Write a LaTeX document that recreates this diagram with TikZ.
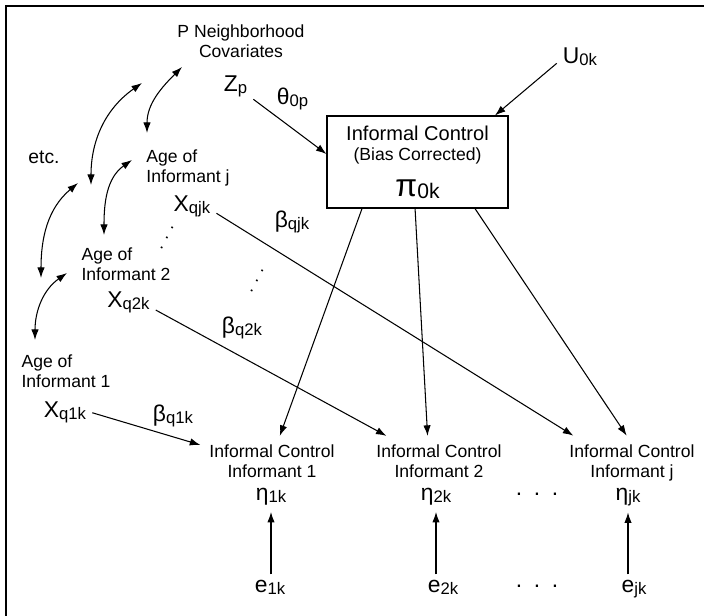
\documentclass[tikz,border=0pt]{standalone}
\usepackage{fontspec}
\setmainfont{Liberation Sans}
\usepackage{tikz}
\usetikzlibrary{arrows.meta,positioning}
\tikzstyle{lbl} = [align=center, font=\fontsize{10}{11.4}\selectfont]
\tikzstyle{age} = [align=left, font=\fontsize{10}{11.4}\selectfont]
\tikzstyle{sym} = [anchor=base, font=\fontsize{13}{15}\selectfont]
\tikzstyle{arrow} = [semithick,->,>={Latex[length=6pt,width=4.2pt]}]
\tikzstyle{corr} = [semithick,<->,>={Latex[length=6pt,width=4.2pt]}]
\newcommand{\symb}[2]{#1\raisebox{-1pt}{\fontsize{9.5}{10}\selectfont #2}}

\begin{document}
\begin{tikzpicture}
\useasboundingbox (0,0) rectangle (14.08,12.32);
% frame, top and left
\draw[line width=1.3pt] (0.12,0) -- (0.12,12.20) -- (14.08,12.20);

% neighborhood level
\node[lbl] (cov) at (4.82,11.49) {P Neighborhood\\Covariates};
\node[sym] (zp) at (4.71,10.48) {\symb{Z}{p}};
\node[sym] (th) at (5.85,10.22) {\symb{θ}{0p}};
\node[sym] (u0) at (11.60,11.04) {\symb{U}{0k}};
\node[draw, semithick, minimum width=3.62cm, minimum height=1.84cm, align=center, font=\fontsize{11.4}{11.4}\selectfont] (box) at (8.35,9.08) {Informal Control\\{\fontsize{10}{11}\selectfont(Bias Corrected)}\\[8pt]{\fontsize{18}{18}\selectfont π\raisebox{-1pt}{\fontsize{12}{12}\selectfont 0k}}};

% informant ages
\node[lbl, font=\fontsize{11}{12}\selectfont] (etc) at (0.88,9.18) {etc.};
\node[age] (agej) at (3.76,8.96) {Age of\\Informant j};
\node[sym] (xj) at (3.84,8.08) {\symb{X}{qjk}};
\node[sym] (bj) at (5.84,7.76) {\symb{β}{qjk}};
\node[age] (age2) at (2.52,7.03) {Age of\\Informant 2};
\node[sym] (x2) at (2.57,6.16) {\symb{X}{q2k}};
\node[sym] (b2) at (4.84,5.64) {\symb{β}{q2k}};
\node[age] (age1) at (1.32,4.90) {Age of\\Informant 1};
\node[sym] (x1) at (1.30,3.96) {\symb{X}{q1k}};
\node[sym] (b1) at (3.46,3.88) {\symb{β}{q1k}};
\node[lbl, rotate=61, inner sep=0pt] (dt1) at (3.34,7.56) {.\hspace{3.5pt}.\hspace{3.5pt}.};
\node[lbl, rotate=61, inner sep=0pt] (dt2) at (5.14,6.70) {.\hspace{3.5pt}.\hspace{3.5pt}.};

% informant level
\node[lbl, inner sep=5pt] (ic1) at (5.44,3.09) {Informal Control\\Informant 1};
\node[lbl, inner sep=5pt] (ic2) at (8.78,3.09) {Informal Control\\Informant 2};
\node[lbl, inner sep=5pt] (icj) at (12.64,3.06) {Informal Control\\Informant j};
\node[sym] (n1) at (5.42,2.30) {\symb{η}{1k}};
\node[sym] (n2) at (8.72,2.30) {\symb{η}{2k}};
\node[sym] (nj) at (12.56,2.30) {\symb{η}{jk}};
\node[sym] (dt3) at (10.74,2.40) {.\hspace{6.6pt}.\hspace{6.6pt}.};
\node[sym] (e1) at (5.40,0.46) {\symb{e}{1k}};
\node[sym] (e2) at (8.86,0.46) {\symb{e}{2k}};
\node[sym] (ej) at (12.68,0.46) {\symb{e}{jk}};
\node[sym] (dt4) at (10.74,0.58) {.\hspace{6.6pt}.\hspace{6.6pt}.};

% paths
\draw[arrow] (zp.-35) -- (box.175);
\draw[arrow] (u0.195) -- (box.31);
\draw[arrow] (box.220) -- (ic1.73);
\draw[arrow] (box.267) -- (ic2.114);
\draw[arrow] (box.-39) -- (icj.101);
\draw[arrow] (x1.east) -- (ic1.167);
\draw[arrow] (x2.-15) -- (ic2.154);
\draw[arrow] (xj.-15) -- (icj.155);
\draw[arrow] (n1.south |- e1.north) -- (n1.south);
\draw[arrow] (n2.south |- e2.north) -- (n2.south);
\draw[arrow] (nj.south |- ej.north) -- (nj.south);

% correlations
\coordinate (r1) at (2.94,9.66);
\coordinate (r2) at (3.64,10.98);
\coordinate (r3) at (1.82,8.62);
\coordinate (r4) at (2.84,10.66);
\coordinate (r5) at (2.08,7.62);
\coordinate (r6) at (2.64,9.12);
\coordinate (r7) at (0.82,6.76);
\coordinate (r8) at (1.56,8.66);
\coordinate (r9) at (0.70,5.52);
\coordinate (r10) at (1.34,6.86);
\draw[corr] (r1) to[out=90,in=225] (r2);
\draw[corr] (r3) to[out=90,in=215] (r4);
\draw[corr] (r5) to[out=90,in=215] (r6);
\draw[corr] (r7) to[out=90,in=220] (r8);
\draw[corr] (r9) to[out=90,in=215] (r10);
\end{tikzpicture}
\end{document}
